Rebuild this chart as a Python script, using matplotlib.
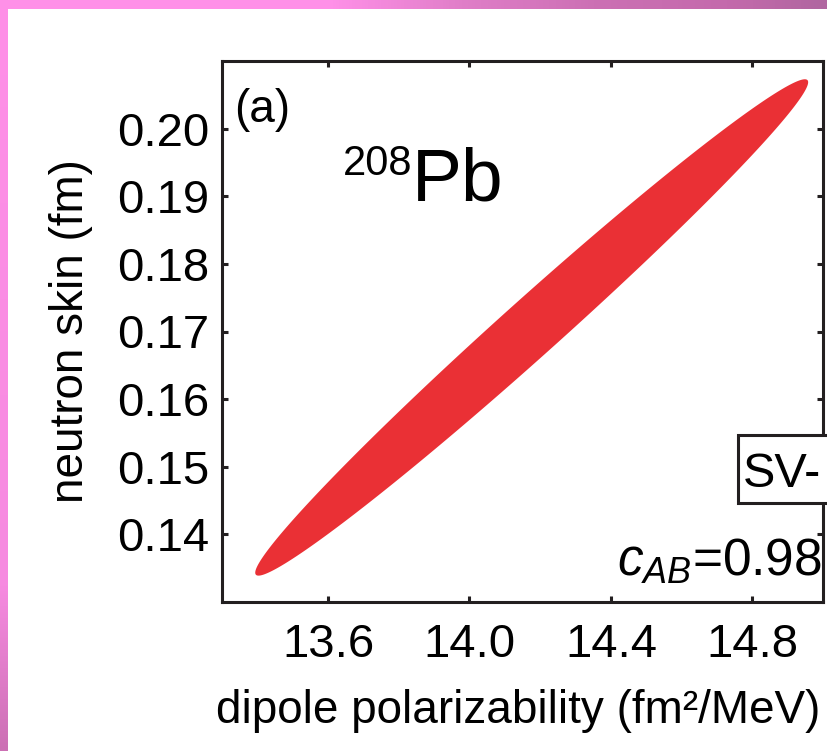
import numpy as np
import matplotlib.pyplot as plt
from matplotlib.patches import Rectangle
from matplotlib.colors import LinearSegmentedColormap

plt.rcParams['font.family'] = ['Liberation Sans', 'DejaVu Sans']
plt.rcParams['mathtext.fontset'] = 'custom'
plt.rcParams['mathtext.rm'] = 'Liberation Sans'
plt.rcParams['mathtext.it'] = 'Liberation Sans:italic'

# 208Pb: dipole polarizability vs neutron skin (covariance ellipse)
alpha_center = 14.176     # fm^2/MeV
skin_center = 0.1706      # fm
alpha_halfwidth = 0.782
skin_halfwidth = 0.0367
rho = 0.988
c_ab_label = '0.98'

xticks = [13.6, 14.0, 14.4, 14.8]
xtick_labels = ['13.6', '14.0', '14.4', '14.8']
yticks = [0.14, 0.15, 0.16, 0.17, 0.18, 0.19, 0.20]
ytick_labels = ['0.14', '0.15', '0.16', '0.17', '0.18', '0.19', '0.20']

dark = '#231f20'
red = '#ea3035'

fig = plt.figure(figsize=(8.27, 7.51), dpi=100)
W, H = 827, 751

# pink frame strips along the top and the left edge
top_cmap = LinearSegmentedColormap.from_list(
    'top', [(0, '#ff90e8'), (0.4, '#ff90e8'), (0.56, '#e07ec8'),
            (0.72, '#cc70b4'), (0.88, '#c46aac'), (1, '#b066a0')])
left_cmap = LinearSegmentedColormap.from_list(
    'left', [(0, '#ff90e8'), (0.78, '#f68ae0'), (1, '#cc70b4')])
ax_top = fig.add_axes([0, 1 - 9 / H, 1, 9 / H])
ax_top.imshow(np.linspace(0, 1, 256)[None, :], cmap=top_cmap, aspect='auto')
ax_top.axis('off')
ax_left = fig.add_axes([0, 0, 8 / W, 1 - 9 / H])
ax_left.imshow(np.linspace(0, 1, 256)[:, None], cmap=left_cmap, aspect='auto')
ax_left.axis('off')

ax = fig.add_axes([222 / W, 1 - 602 / H, 601 / W, 541 / H])

t = np.linspace(0, 2 * np.pi, 600)
ex = alpha_center + alpha_halfwidth * np.cos(t)
ey = skin_center + skin_halfwidth * (rho * np.cos(t) + np.sqrt(1 - rho ** 2) * np.sin(t))
ax.fill(ex, ey, color=red, lw=0)

ax.set_xlim(13.3, 15.0)
ax.set_ylim(0.13, 0.21)
ax.set_xticks(xticks, xtick_labels)
ax.set_yticks(yticks, ytick_labels)
ax.tick_params(direction='in', length=4.5, width=2.2, color=dark,
               labelsize=34, top=True, right=True)
ax.tick_params(axis='x', pad=15)
ax.tick_params(axis='y', pad=9)
for s in ax.spines.values():
    s.set_linewidth(2.2)
    s.set_color(dark)

ax.set_xlabel('dipole polarizability (fm²/MeV)', fontsize=33)
ax.xaxis.set_label_coords(0.493, -0.16)
ax.set_ylabel('neutron skin (fm)', fontsize=33)
ax.yaxis.set_label_coords(-0.215, 0.5)

ax.text(0.02, 0.887, '(a)', transform=ax.transAxes, fontsize=33, va='baseline')
ax.text(0.201, 0.789, '208', transform=ax.transAxes, fontsize=30, va='baseline')
ax.text(0.316, 0.743, 'Pb', transform=ax.transAxes, fontsize=54, va='baseline')

# parameter-set tag, runs off the right edge
ax.add_patch(Rectangle((0.8586, 0.183), 0.3, 0.1257, transform=ax.transAxes,
                       facecolor='white', edgecolor=dark, lw=2.2,
                       clip_on=False, zorder=5))
ax.text(0.866, 0.2126, 'SV-', transform=ax.transAxes, fontsize=35,
        va='baseline', zorder=6)
ax.text(0.998, 0.048, r'$c_{AB}$=' + c_ab_label, transform=ax.transAxes,
        fontsize=37, ha='right', va='baseline')

fig.savefig('out.png', dpi=100)
